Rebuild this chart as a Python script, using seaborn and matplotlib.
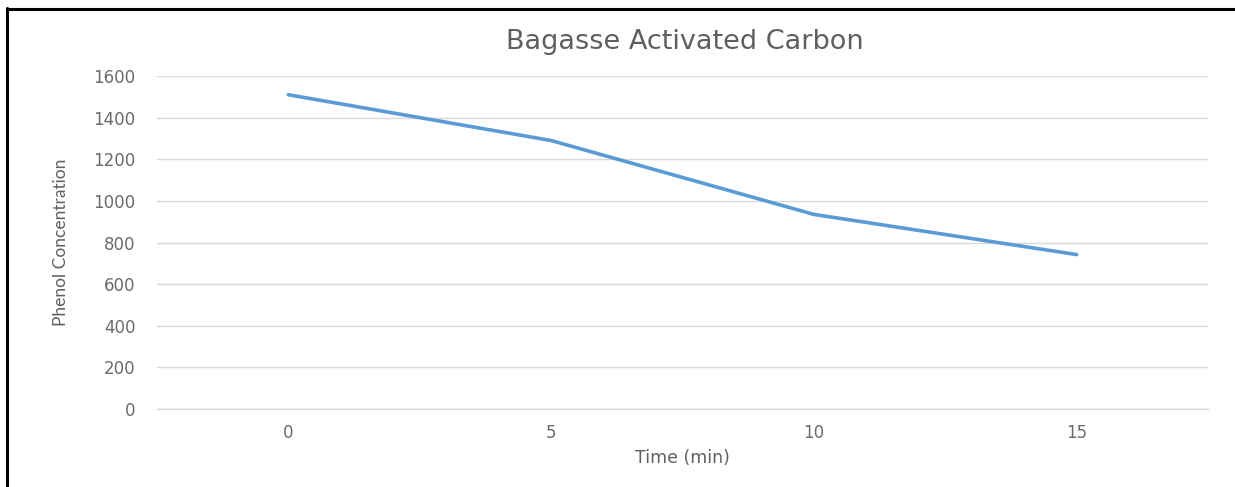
import matplotlib
matplotlib.use("Agg")
import matplotlib.pyplot as plt
import seaborn as sns
import pandas as pd

# Data
time_labels = ["0", "5", "10", "15"]
phenol = [1510, 1290, 935, 742]
y_ticks = [0, 200, 400, 600, 800, 1000, 1200, 1400, 1600]

sns.set_theme(style="white")
plt.rcParams['font.family'] = ['DejaVu Sans']

W, H = 1235, 487
fig = plt.figure(figsize=(W / 100, H / 100), dpi=100)
ax = fig.add_axes([157 / W, 1 - 409 / H, (1208 - 157) / W, (409 - 76) / H])

df = pd.DataFrame({"Time": time_labels, "Phenol": phenol})
sns.lineplot(data=df, x="Time", y="Phenol", ax=ax, color="#5B9BD5",
             linewidth=2.6, sort=False)

ax.set_xlim(-0.5, len(time_labels) - 0.5)
ax.set_ylim(0, 1600)
ax.set_yticks(y_ticks)
ax.set_yticklabels([str(v) for v in y_ticks])
ax.grid(axis="y", color="#D9D9D9", linewidth=1)
ax.grid(axis="x", visible=False)
for s in ax.spines.values():
    s.set_visible(False)
ax.spines["bottom"].set_visible(True)
ax.spines["bottom"].set_color("#D9D9D9")
ax.spines["bottom"].set_linewidth(1)
ax.tick_params(axis="both", length=0, labelsize=12, labelcolor="#6b6b6b")
ax.tick_params(axis="y", pad=15.5)
ax.tick_params(axis="x", pad=11)
ax.set_xlabel("")
ax.set_ylabel("")

fig.text(685 / W, 1 - 42 / H, "Bagasse Activated Carbon", ha="center", va="center",
         fontsize=19.5, color="#5f5f5f")
fig.text(682 / W, 1 - 458 / H, "Time (min)", ha="center", va="center",
         fontsize=12.5, color="#5f5f5f")
fig.text(61 / W, 1 - 242 / H, "Phenol Concentration", ha="center", va="center",
         rotation=90, fontsize=12.5, color="#5f5f5f", family=["Lato", "DejaVu Sans"])

# outer border (open at right and bottom as in the reference)
fig.add_artist(plt.Line2D([6.5 / W, 6.5 / W], [0, 1 - 8 / H], transform=fig.transFigure,
                          color="black", linewidth=2.2))
fig.add_artist(plt.Line2D([6.5 / W, 1], [1 - 8.5 / H, 1 - 8.5 / H], transform=fig.transFigure,
                          color="black", linewidth=2.2))

fig.savefig("out.png", dpi=100)
